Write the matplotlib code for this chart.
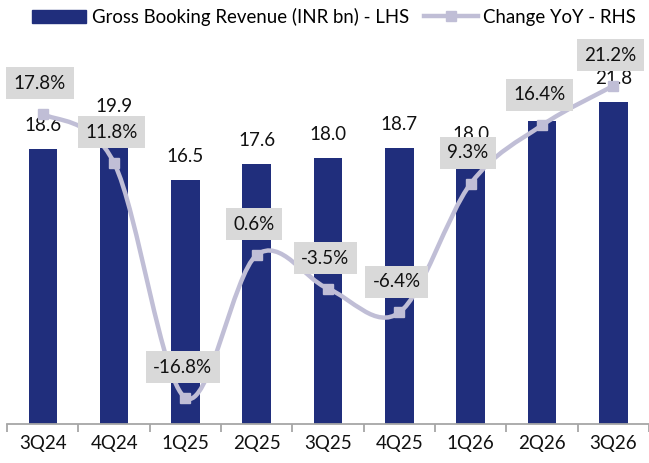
import numpy as np
import matplotlib
matplotlib.use('Agg')
import matplotlib.pyplot as plt
from matplotlib.path import Path
from matplotlib.patches import PathPatch
from matplotlib.lines import Line2D
from matplotlib.patches import Patch

quarters = ['3Q24', '4Q24', '1Q25', '2Q25', '3Q25', '4Q25', '1Q26', '2Q26', '3Q26']
gbr = [18.6, 19.9, 16.5, 17.6, 18.0, 18.7, 18.0, 20.5, 21.8]
gbr_labels = ['18.6', '19.9', '16.5', '17.6', '18.0', '18.7', '18.0', '', '21.8']
yoy = [17.8, 11.8, -16.8, 0.6, -3.5, -6.4, 9.3, 16.4, 21.2]

bar_col = '#202E7C'
line_col = '#C0BED6'
box_col = '#D9D9D9'

plt.rcParams['font.family'] = ['Lato', 'DejaVu Sans']
fs = 13.5

fig = plt.figure(figsize=(6.49, 4.63), dpi=100)
ax = fig.add_axes([0.011, 0.084, 0.989, 0.798])
ax2 = ax.twinx()

x = np.arange(len(quarters))
ax.bar(x, gbr, width=0.4, color=bar_col, zorder=2)
ax.set_xlim(-0.5, len(quarters) - 0.5)
ax.set_ylim(0, 25)
ax2.set_ylim(-20, 25)

for i, v in enumerate(gbr):
    if gbr_labels[i]:
        ax.annotate(gbr_labels[i], (x[i], v), xytext=(0, 17), textcoords='offset points',
                    ha='center', va='center', fontsize=fs, color='#111111', zorder=3)

# smoothed line (catmull-rom as bezier segments)
pts = np.column_stack([x, yoy]).astype(float)
verts = [pts[0]]
codes = [Path.MOVETO]
n = len(pts)
for i in range(n - 1):
    p0 = pts[i - 1] if i > 0 else pts[i]
    p1 = pts[i]
    p2 = pts[i + 1]
    p3 = pts[i + 2] if i + 2 < n else pts[i + 1]
    c1 = p1 + (p2 - p0) / 6.0
    c2 = p2 - (p3 - p1) / 6.0
    verts += [c1, c2, p2]
    codes += [Path.CURVE4] * 3
ax2.add_patch(PathPatch(Path(verts, codes), facecolor='none', edgecolor=line_col,
                        lw=3.2, zorder=3, capstyle='round', joinstyle='round'))
ax2.plot(x, yoy, ls='none', marker='s', ms=7.5, color=line_col, zorder=4)

for i, v in enumerate(yoy):
    ax2.annotate(f'{v:.1f}%', (x[i], v), xytext=(-2, 22), textcoords='offset points',
                 ha='center', va='center', fontsize=fs, color='#111111', zorder=5,
                 bbox=dict(boxstyle='square,pad=0.4', fc=box_col, ec='none'))

ax.set_zorder(1)
ax2.set_zorder(2)
ax.patch.set_visible(False)

for a in (ax, ax2):
    for s in ['top', 'left', 'right']:
        a.spines[s].set_visible(False)
ax2.spines['bottom'].set_visible(False)
ax.spines['bottom'].set_color('#A6A6A6')
ax.spines['bottom'].set_linewidth(1.3)
ax.set_yticks([])
ax2.set_yticks([])

ax.set_xticks(x)
ax.set_xticklabels(quarters, fontsize=fs, color='#111111')
ax.tick_params(axis='x', which='major', length=0, pad=8)
ax.set_xticks(np.arange(-0.5, len(quarters), 1.0), minor=True)
ax.tick_params(axis='x', which='minor', length=6, width=1.3, color='#A6A6A6', direction='out')

handles = [Patch(color=bar_col),
           Line2D([0], [0], color=line_col, lw=3.2, marker='s', ms=7.5)]
fig.legend(handles, ['Gross Booking Revenue (INR bn) - LHS', 'Change YoY - RHS'],
           loc='upper center', bbox_to_anchor=(0.515, 1.015), ncol=2, frameon=False,
           fontsize=13.4, handlelength=2.9, handletextpad=0.3, columnspacing=0.8,
           borderpad=0.3)

fig.savefig('out.png', dpi=100)
